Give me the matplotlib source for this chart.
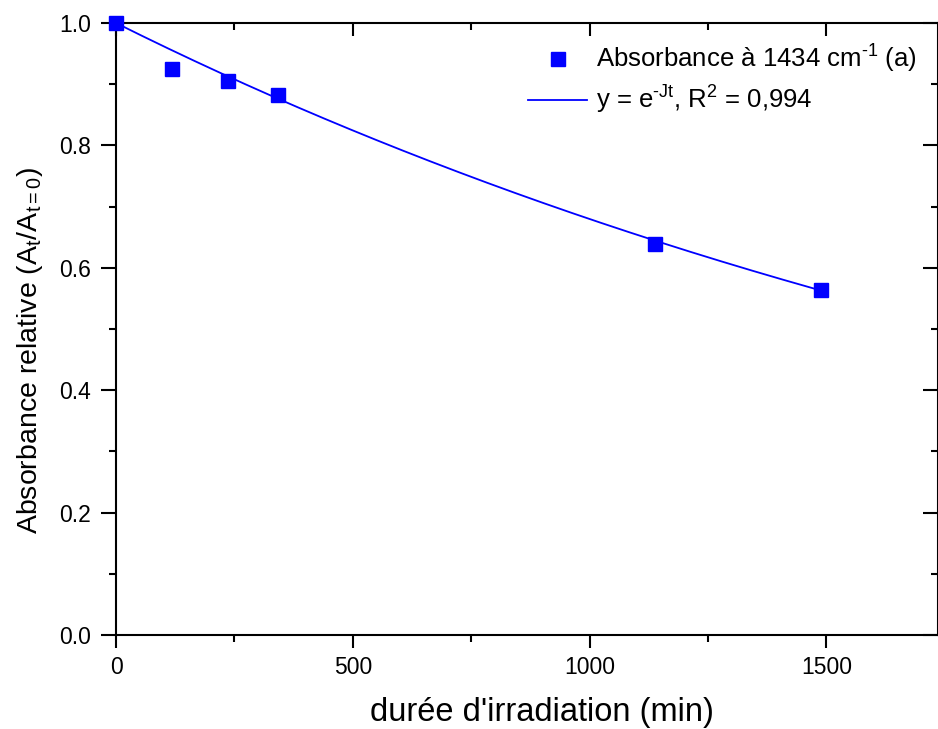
import numpy as np
import matplotlib
matplotlib.use("Agg")
import matplotlib.pyplot as plt
from matplotlib.ticker import MultipleLocator

# data
t_min = [0, 118, 237, 343, 1138, 1488]
absorb = [1.0, 0.925, 0.905, 0.883, 0.639, 0.563]
J_fit = 3.86e-4  # fitted decay constant
x_ticks = [0, 500, 1000, 1500]
y_ticks = [0.0, 0.2, 0.4, 0.6, 0.8, 1.0]

plt.rcParams['font.family'] = ['Liberation Sans', 'DejaVu Sans']
plt.rcParams['mathtext.fontset'] = 'custom'
plt.rcParams['mathtext.rm'] = 'Liberation Sans'
plt.rcParams['mathtext.it'] = 'Liberation Sans'

fig = plt.figure(figsize=(9.38, 7.29), dpi=100)
ax = fig.add_axes([116/938, 1-635/729, 1-116/938 - 0.0005, (635-23)/729])

tt = np.linspace(0, t_min[-1] + 5, 300)
ax.plot(tt, np.exp(-J_fit*tt), color='#0000ff', lw=1.3,
        label='y = e$^{\\mathrm{\u2010Jt}}$, R$^{2}$ = 0,994', zorder=2)
ax.plot(t_min, absorb, 's', color='#0000ff', ms=10, ls='none',
        label='Absorbance à 1434 cm$^{\\mathrm{\u20101}}$ (a)', zorder=3, clip_on=False)

ax.set_xlim(0, 1735)
ax.set_ylim(0, 1.0)
ax.set_xticks(x_ticks)
ax.set_yticks(y_ticks)
ax.set_yticklabels([f"{v:.1f}" for v in y_ticks])
ax.xaxis.set_minor_locator(MultipleLocator(250))
ax.yaxis.set_minor_locator(MultipleLocator(0.1))

for s in ax.spines.values():
    s.set_linewidth(1.5)
ax.tick_params(which='major', length=9, width=1.5, labelsize=16.5, direction='out', pad=6)
ax.tick_params(which='minor', length=5, width=1.5, direction='out')
ax.tick_params(axis='y', which='major', length=11, pad=7)
ax.tick_params(which='both', top=True, right=True)

for tick in ax.xaxis.get_major_ticks() + ax.xaxis.get_minor_ticks():
    tick.tick2line.set_marker(matplotlib.lines.TICKDOWN)
for tick in ax.yaxis.get_major_ticks() + ax.yaxis.get_minor_ticks():
    tick.tick2line.set_marker(matplotlib.lines.TICKLEFT)

ax.set_xlabel("durée d'irradiation (min)", fontsize=23.5, va='center')
ax.xaxis.set_label_coords(0.518, -(713-635)/612)
ax.set_ylabel(r'Absorbance relative (A$_{\mathrm{t}}$/A$_{\mathrm{t{=}0}}$)', fontsize=20.5,
              va='center', ha='center')
ax.yaxis.set_label_coords((30-116)/822, (635-350)/612)

h, l = ax.get_legend_handles_labels()
leg = ax.legend(h[::-1], l[::-1], loc='upper right', bbox_to_anchor=(0.975, 0.967),
                frameon=False, fontsize=18.5, handlelength=2.3, handletextpad=0.35,
                labelspacing=0.33, borderaxespad=0.0, borderpad=0.0)

fig.savefig('out.png', dpi=100)
